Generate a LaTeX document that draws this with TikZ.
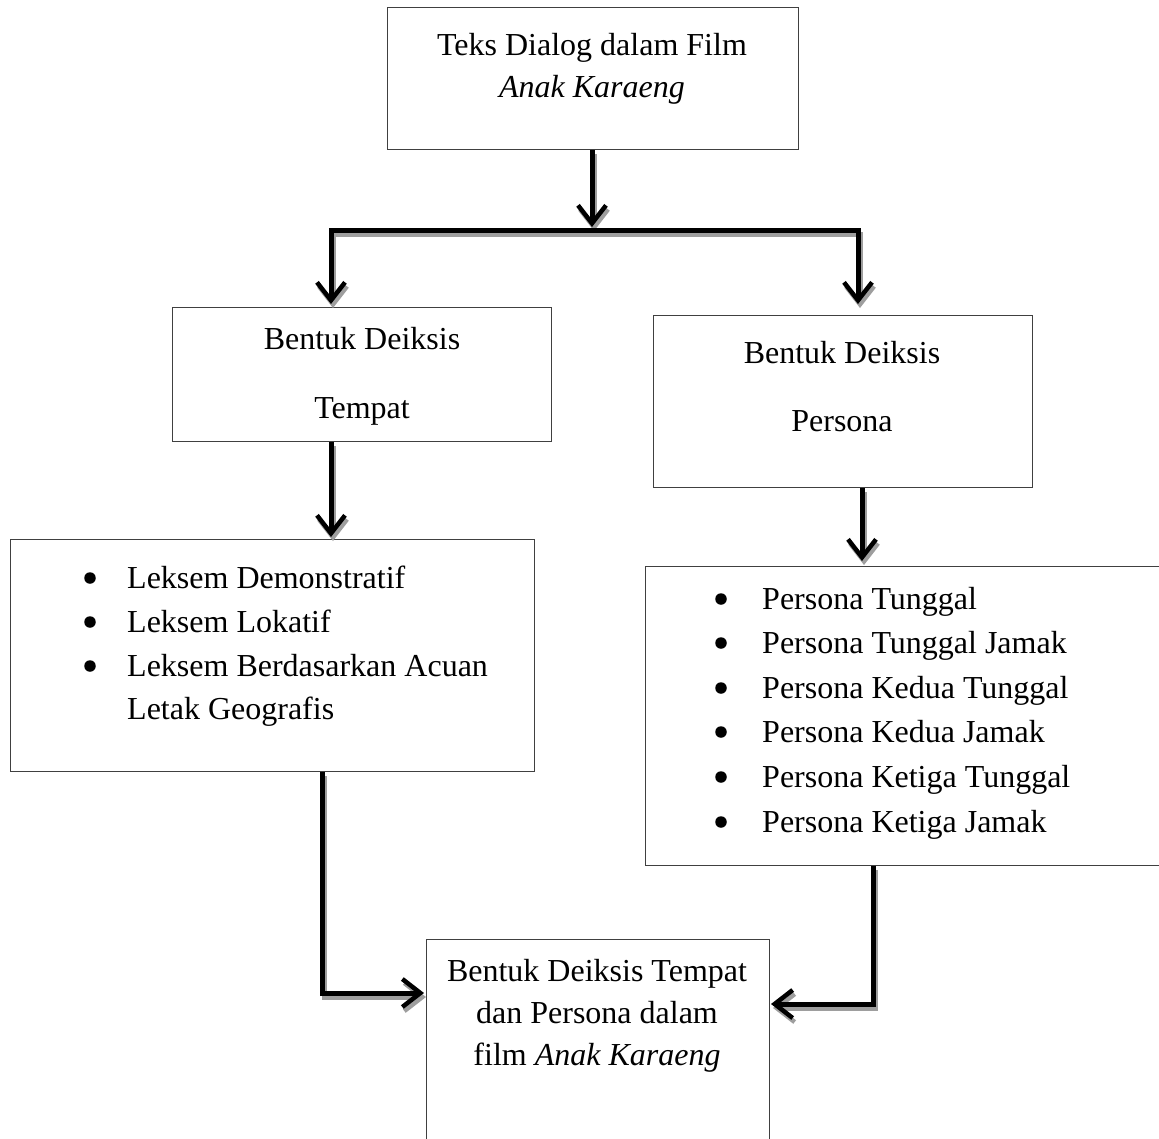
\documentclass[tikz,border=0pt]{standalone}
\usepackage{fontspec}
\setmainfont{Liberation Serif}
\usetikzlibrary{arrows.meta}
\begin{document}
\begin{tikzpicture}[x=1pt,y=-1pt,
  box/.style={draw=black!75,line width=1.3pt,inner sep=0pt,anchor=north west},
  txt/.style={inner sep=0pt,anchor=base,font=\fontsize{32}{44}\selectfont},
  ltxt/.style={inner sep=0pt,anchor=base west,font=\fontsize{32}{44}\selectfont},
  bul/.style={circle,fill=black,inner sep=0pt,minimum size=11.5pt},
  conn/.style={line width=5pt,line join=miter,
    preaction={draw=black!38,line width=5pt,transform canvas={xshift=2pt,yshift=-4pt}}},
  tipend/.style={-{Straight Barb[length=18pt,width=28pt,line width=4.5pt]}},
  tipboth/.style={{Straight Barb[length=18pt,width=28pt,line width=4.5pt]}-{Straight Barb[length=18pt,width=28pt,line width=4.5pt]}}
]
\useasboundingbox (0,0) rectangle (1159,1138);
\clip (0,0) rectangle (1159,1138);
\fill[white] (0,0) rectangle (1159,1138);

% boxes
\node[box,minimum width=411pt,minimum height=142pt] (top) at (387,7) {};
\node[box,minimum width=379pt,minimum height=134pt] (tempat) at (172,307) {};
\node[box,minimum width=379pt,minimum height=172pt] (persona) at (653,315) {};
\node[box,minimum width=524pt,minimum height=232pt] (ltempat) at (10,539) {};
\node[box,minimum width=530pt,minimum height=299pt] (lpersona) at (645,566) {};
\node[box,minimum width=343pt,minimum height=230pt] (hasil) at (426,939) {};

% texts
\node[txt] (t1) at (592,55) {Teks Dialog dalam Film};
\node[txt] (t2) at (592,97) {\itshape Anak Karaeng};
\node[txt] (tp1) at (362,349) {Bentuk Deiksis};
\node[txt] (tp2) at (362,418) {Tempat};
\node[txt] (ps1) at (842,363) {Bentuk Deiksis};
\node[txt] (ps2) at (842,431) {Persona};

\node[bul] (lb1) at (90,578) {};
\node[bul] (lb2) at (90,622) {};
\node[bul] (lb3) at (90,666) {};
\node[ltxt] (lt1) at (127,588) {Leksem Demonstratif};
\node[ltxt] (lt2) at (127,632) {Leksem Lokatif};
\node[ltxt] (lt3) at (127,676) {Leksem Berdasarkan Acuan};
\node[ltxt] (lt4) at (127,719) {Letak Geografis};

\node[bul] (rb1) at (721,599) {};
\node[bul] (rb2) at (721,643) {};
\node[bul] (rb3) at (721,688) {};
\node[bul] (rb4) at (721,732) {};
\node[bul] (rb5) at (721,777) {};
\node[bul] (rb6) at (721,822) {};
\node[ltxt] (rt1) at (762,609) {Persona Tunggal};
\node[ltxt] (rt2) at (762,653) {Persona Tunggal Jamak};
\node[ltxt] (rt3) at (762,698) {Persona Kedua Tunggal};
\node[ltxt] (rt4) at (762,742) {Persona Kedua Jamak};
\node[ltxt] (rt5) at (762,787) {Persona Ketiga Tunggal};
\node[ltxt] (rt6) at (762,832) {Persona Ketiga Jamak};

\node[txt] (h1) at (597,981) {Bentuk Deiksis Tempat};
\node[txt] (h2) at (597,1023) {dan Persona dalam};
\node[txt] (h3) at (597,1065) {film \itshape Anak Karaeng};

% connector coordinates
\coordinate (j0) at (592,227);
\coordinate (a1) at (331,304);
\coordinate (barR) at (858,230);
\coordinate (a2) at (858,304);
\coordinate (tp) at (331,443);
\coordinate (tl) at (331,537);
\coordinate (pp) at (862,490);
\coordinate (pl) at (862,561);
\coordinate (ls) at (322,771);
\coordinate (le) at (424,993);
\coordinate (rs) at (873,867);
\coordinate (re) at (771,1004);

% connectors
\draw[conn,tipend] (top.south -| j0) -- (j0);
\draw[conn,tipboth] (a1) |- (barR) -- (a2);
\draw[conn,tipend] (tempat.south -| tp) -- (tl);
\draw[conn,tipend] (persona.south -| pp) -- (pl);
\draw[conn,tipend] (ltempat.south -| ls) |- (le);
\draw[conn,tipend] (lpersona.south -| rs) |- (re);
\end{tikzpicture}
\end{document}
